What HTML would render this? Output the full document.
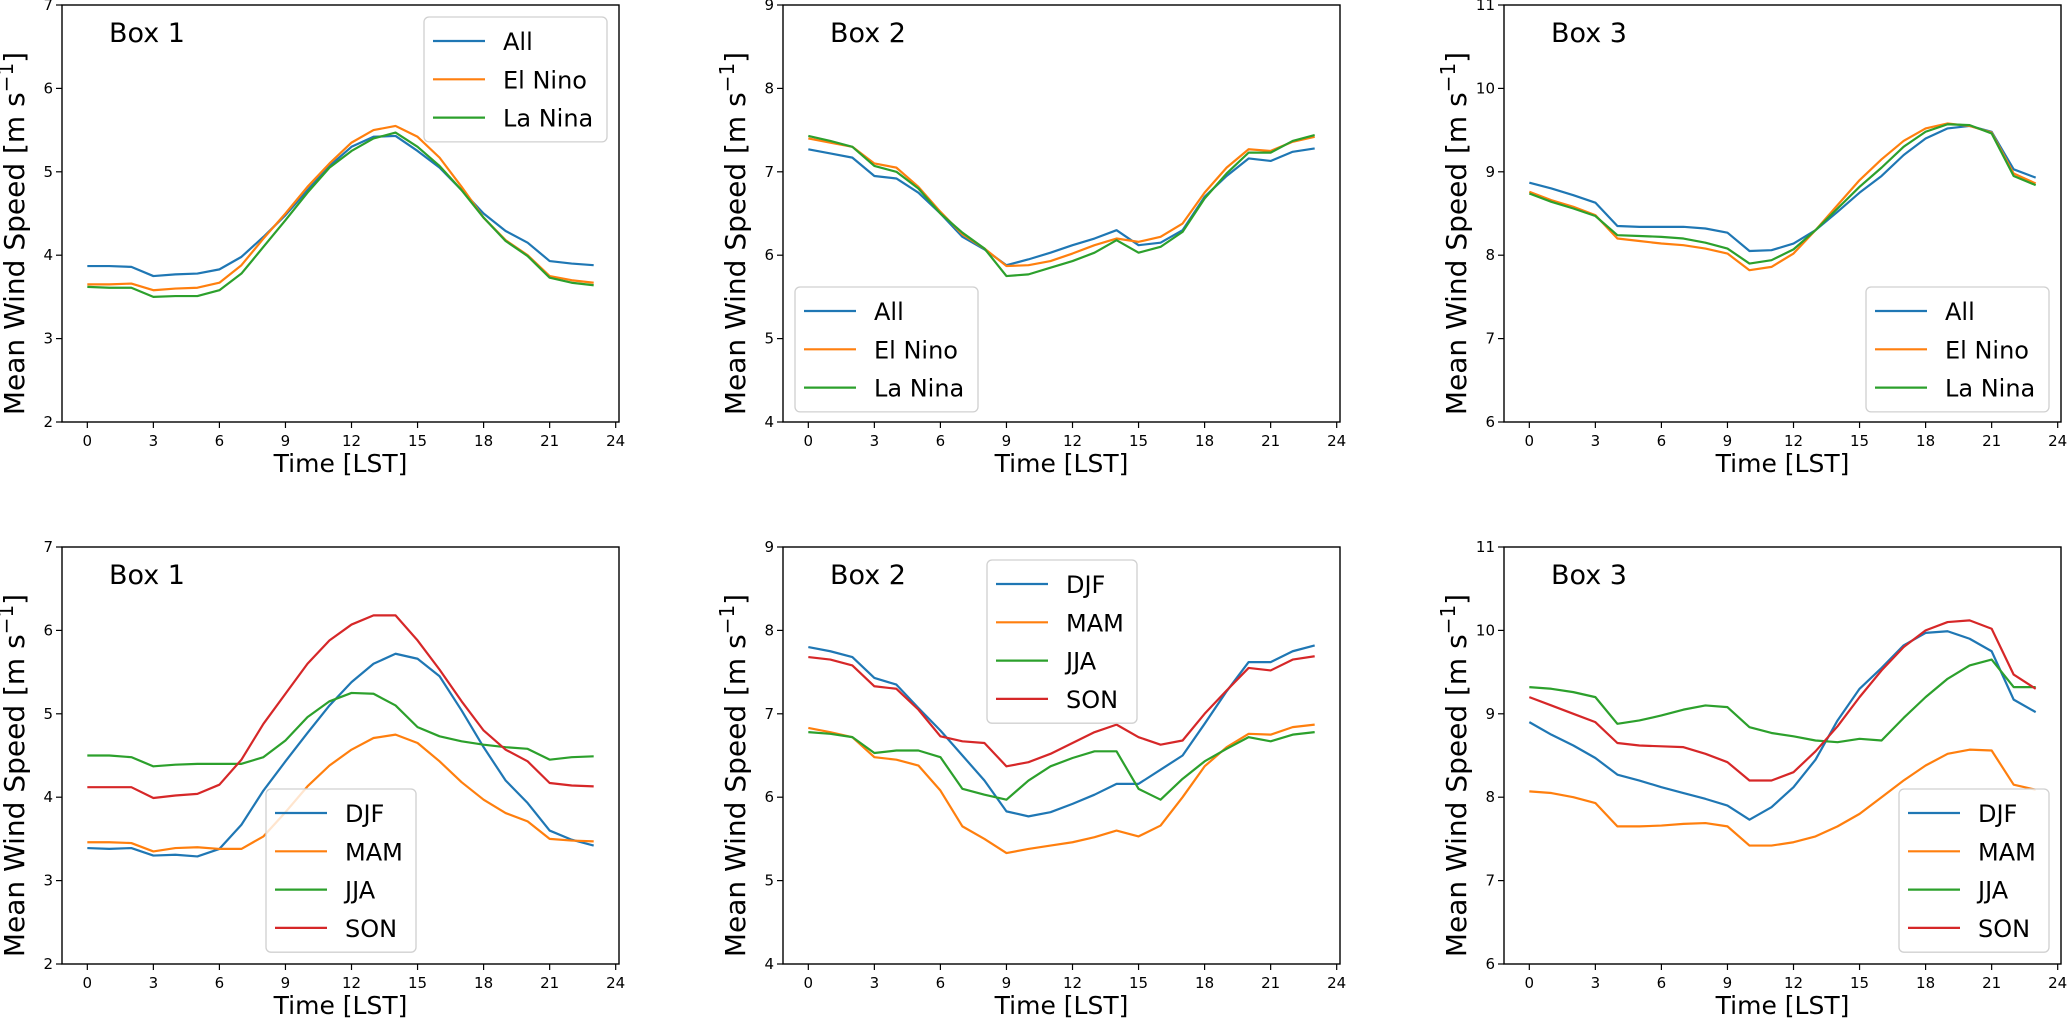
<!DOCTYPE html>
<html><head><meta charset="utf-8">
<style>
html,body{margin:0;padding:0;background:#fff;}
svg{display:block;font-family:"DejaVu Sans","Liberation Sans",sans-serif;}
</style></head>
<body>
<svg id="fig" width="2068" height="1019" viewBox="0 0 2068 1019" xmlns="http://www.w3.org/2000/svg"></svg>
<script>
const hours = [0,1,2,3,4,5,6,7,8,9,10,11,12,13,14,15,16,17,18,19,20,21,22,23];
const xTicks = [0,3,6,9,12,15,18,21,24];
const ensoNames = ["All","El Nino","La Nina"];
const seasonNames = ["DJF","MAM","JJA","SON"];
const box1All = [3.87,3.87,3.86,3.75,3.77,3.78,3.83,3.98,4.22,4.48,4.78,5.07,5.3,5.42,5.43,5.25,5.05,4.78,4.5,4.29,4.15,3.93,3.9,3.88];
const box1Nino = [3.65,3.65,3.66,3.58,3.6,3.61,3.67,3.88,4.2,4.5,4.82,5.1,5.35,5.5,5.55,5.42,5.17,4.82,4.45,4.18,4.0,3.75,3.7,3.67];
const box1Nina = [3.62,3.61,3.61,3.5,3.51,3.51,3.58,3.78,4.1,4.42,4.75,5.05,5.25,5.4,5.47,5.3,5.07,4.78,4.45,4.17,3.99,3.73,3.67,3.64];
const box2All = [7.27,7.22,7.17,6.95,6.92,6.75,6.5,6.22,6.07,5.88,5.95,6.03,6.12,6.2,6.3,6.12,6.15,6.3,6.7,6.95,7.16,7.13,7.24,7.28];
const box2Nino = [7.4,7.35,7.3,7.1,7.05,6.82,6.52,6.25,6.08,5.87,5.88,5.93,6.02,6.12,6.2,6.16,6.22,6.38,6.75,7.05,7.27,7.25,7.36,7.42];
const box2Nina = [7.43,7.37,7.3,7.07,7.0,6.8,6.5,6.27,6.08,5.75,5.77,5.85,5.93,6.03,6.18,6.03,6.1,6.28,6.68,6.98,7.23,7.23,7.37,7.44];
const box3All = [8.87,8.8,8.72,8.63,8.35,8.34,8.34,8.34,8.32,8.27,8.05,8.06,8.14,8.3,8.52,8.75,8.95,9.2,9.4,9.52,9.55,9.48,9.03,8.93];
const box3Nino = [8.76,8.66,8.58,8.48,8.2,8.17,8.14,8.12,8.08,8.02,7.82,7.86,8.02,8.3,8.6,8.9,9.15,9.37,9.52,9.58,9.55,9.47,8.98,8.86];
const box3Nina = [8.74,8.64,8.56,8.47,8.24,8.23,8.22,8.2,8.15,8.08,7.9,7.94,8.07,8.3,8.56,8.82,9.05,9.3,9.48,9.57,9.56,9.46,8.95,8.84];
const box1DJF = [3.39,3.38,3.39,3.3,3.31,3.29,3.38,3.67,4.08,4.43,4.77,5.1,5.38,5.6,5.72,5.66,5.45,5.04,4.6,4.2,3.93,3.6,3.49,3.42];
const box1MAM = [3.46,3.46,3.45,3.35,3.39,3.4,3.38,3.38,3.53,3.82,4.13,4.38,4.57,4.71,4.75,4.65,4.43,4.18,3.97,3.81,3.71,3.5,3.48,3.47];
const box1JJA = [4.5,4.5,4.48,4.37,4.39,4.4,4.4,4.4,4.48,4.68,4.96,5.15,5.25,5.24,5.1,4.84,4.73,4.67,4.63,4.6,4.58,4.45,4.48,4.49];
const box1SON = [4.12,4.12,4.12,3.99,4.02,4.04,4.15,4.45,4.88,5.24,5.6,5.88,6.07,6.18,6.18,5.88,5.53,5.15,4.8,4.57,4.43,4.17,4.14,4.13];
const box2DJF = [7.8,7.75,7.68,7.43,7.35,7.07,6.8,6.5,6.2,5.83,5.77,5.82,5.92,6.03,6.16,6.16,6.33,6.5,6.88,7.27,7.62,7.62,7.75,7.82];
const box2MAM = [6.83,6.78,6.72,6.48,6.45,6.38,6.08,5.65,5.5,5.33,5.38,5.42,5.46,5.52,5.6,5.53,5.66,6.0,6.37,6.6,6.76,6.75,6.84,6.87];
const box2JJA = [6.78,6.76,6.72,6.53,6.56,6.56,6.48,6.1,6.03,5.97,6.2,6.37,6.47,6.55,6.55,6.1,5.97,6.22,6.43,6.58,6.72,6.67,6.75,6.78];
const box2SON = [7.68,7.65,7.58,7.33,7.3,7.05,6.73,6.67,6.65,6.37,6.42,6.52,6.65,6.78,6.87,6.72,6.63,6.68,7.0,7.28,7.55,7.52,7.65,7.69];
const box3DJF = [8.9,8.75,8.62,8.47,8.27,8.2,8.12,8.05,7.98,7.9,7.73,7.88,8.12,8.45,8.92,9.3,9.55,9.82,9.97,9.99,9.9,9.75,9.17,9.02];
const box3MAM = [8.07,8.05,8.0,7.93,7.65,7.65,7.66,7.68,7.69,7.65,7.42,7.42,7.46,7.53,7.65,7.8,8.0,8.2,8.38,8.52,8.57,8.56,8.15,8.09];
const box3JJA = [9.32,9.3,9.26,9.2,8.88,8.92,8.98,9.05,9.1,9.08,8.84,8.77,8.73,8.68,8.66,8.7,8.68,8.95,9.2,9.42,9.58,9.65,9.32,9.32];
const box3SON = [9.2,9.1,9.0,8.9,8.65,8.62,8.61,8.6,8.52,8.42,8.2,8.2,8.3,8.55,8.85,9.2,9.52,9.8,10.0,10.1,10.12,10.02,9.47,9.3];
const yTicks1 = [2,3,4,5,6,7];
const yTicks2 = [4,5,6,7,8,9];
const yTicks3 = [6,7,8,9,10,11];
const colors = ["#1f77b4","#ff7f0e","#2ca02c","#d62728"];

const NS = "http://www.w3.org/2000/svg";
const fig = document.getElementById("fig");
function mk(tag, attrs, parent){
  const e = document.createElementNS(NS, tag);
  for (const k in attrs) e.setAttribute(k, attrs[k]);
  (parent||fig).appendChild(e);
  return e;
}

const panels = [
  {left:62, top:5, title:"Box 1", yt:yTicks1, names:ensoNames, series:[box1All,box1Nino,box1Nina], leg:{x:424,y:17,w:183}},
  {left:783, top:5, title:"Box 2", yt:yTicks2, names:ensoNames, series:[box2All,box2Nino,box2Nina], leg:{x:795,y:287,w:183}},
  {left:1504, top:5, title:"Box 3", yt:yTicks3, names:ensoNames, series:[box3All,box3Nino,box3Nina], leg:{x:1866,y:287,w:183}},
  {left:62, top:547, title:"Box 1", yt:yTicks1, names:seasonNames, series:[box1DJF,box1MAM,box1JJA,box1SON], leg:{x:266,y:789,w:150}},
  {left:783, top:547, title:"Box 2", yt:yTicks2, names:seasonNames, series:[box2DJF,box2MAM,box2JJA,box2SON], leg:{x:987,y:560,w:150}},
  {left:1504, top:547, title:"Box 3", yt:yTicks3, names:seasonNames, series:[box3DJF,box3MAM,box3JJA,box3SON], leg:{x:1899,y:789,w:150}}
];
const W = 557, H = 417;

panels.forEach((p, pi) => {
  const g = mk("g", {});
  
  
  const ymin = p.yt[0], ymax = p.yt[p.yt.length-1];
  const xmin = -1.15, xmax = 24.15;
  const sx = v => p.left + (v - xmin) / (xmax - xmin) * W;
  const sy = v => p.top + H - (v - ymin) / (ymax - ymin) * H;

  p.series.forEach((arr, si) => {
    const pts = hours.map((h, i) => sx(h).toFixed(2) + "," + sy(arr[i]).toFixed(2)).join(" ");
    const pl = mk("polyline", {points: pts, fill:"none", stroke: colors[si], "stroke-width": 2.2, "stroke-linejoin":"round"}, g);
    
    
  });

  const fr = mk("rect", {x:p.left, y:p.top, width:W, height:H, fill:"none", stroke:"#000", "stroke-width":1.4}, g);
  
  

  xTicks.forEach(t => {
    const x = sx(t);
    mk("line", {x1:x, x2:x, y1:p.top+H, y2:p.top+H+6, stroke:"#000", "stroke-width":1.2}, g);
    const tx = mk("text", {x:x, y:p.top+H+24, "text-anchor":"middle", "font-size":15}, g);
    tx.textContent = t;
    
    
  });
  p.yt.forEach(t => {
    const y = sy(t);
    mk("line", {x1:p.left-6, x2:p.left, y1:y, y2:y, stroke:"#000", "stroke-width":1.2}, g);
    const ty = mk("text", {x:p.left-9, y:y+5, "text-anchor":"end", "font-size":15}, g);
    ty.textContent = t;
    
    
  });

  const tt = mk("text", {x:p.left+47, y:p.top+37, "font-size":27}, g);
  tt.textContent = p.title;
  
  

  const xl = mk("text", {x:p.left+W/2, y:p.top+H+50, "text-anchor":"middle", "font-size":25}, g);
  xl.textContent = "Time [LST]";
  
  

  const cx = p.left - 38, cy = p.top + H/2 + 20;
  const yl = mk("text", {x:cx, y:cy, "text-anchor":"middle", "font-size":28, transform:"rotate(-90 "+cx+" "+cy+")"}, g);
  yl.textContent = "Mean Wind Speed [m s";
  const sup = mk("tspan", {dy:-11, "font-size":20}, yl);
  sup.textContent = "\u22121";
  const cl = mk("tspan", {dy:11}, yl);
  cl.textContent = "]";
  
  

  const n = p.names.length;
  const lg = mk("g", {}, g);
  
  
  mk("rect", {x:p.leg.x, y:p.leg.y, width:p.leg.w, height:10+n*38.3, rx:5, fill:"#fff", "fill-opacity":0.8, stroke:"#d0d0d0", "stroke-width":1.3}, lg);
  p.names.forEach((nm, i) => {
    const ry = p.leg.y + 24 + i*38.3;
    const ent = mk("g", {}, lg);
    
    
    mk("line", {x1:p.leg.x+9, x2:p.leg.x+61, y1:ry, y2:ry, stroke:colors[i], "stroke-width":2.2}, ent);
    const lt = mk("text", {x:p.leg.x+79, y:ry+9, "font-size":24}, ent);
    lt.textContent = nm;
  });
});
</script>
</body></html>
